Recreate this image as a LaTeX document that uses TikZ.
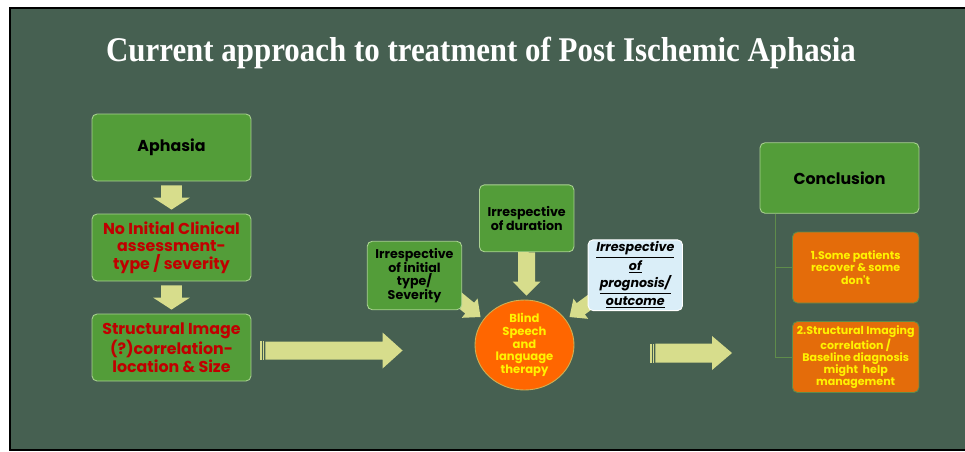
\documentclass[tikz,border=0pt]{standalone}
\usepackage{fontspec}
\setmainfont{Liberation Serif}
\newfontfamily\boxfont{Poppins}
\usetikzlibrary{calc,positioning,shapes.geometric}

\definecolor{slidebg}{RGB}{70,96,81}
\definecolor{boxgreen}{RGB}{83,157,57}
\definecolor{boxedge}{RGB}{170,210,145}
\definecolor{arrowfill}{RGB}{215,221,140}
\definecolor{alertred}{RGB}{192,0,0}
\definecolor{circorange}{RGB}{255,102,0}
\definecolor{resorange}{RGB}{228,108,10}
\definecolor{notefill}{RGB}{218,238,248}
\definecolor{trunkgreen}{RGB}{95,140,75}

\pgfdeclarelayer{bglayer}
\pgfdeclarelayer{under}
\pgfsetlayers{bglayer,under,main}

\tikzset{
  card/.style={rectangle, rounded corners=0.1cm, draw=boxedge, line width=0.5pt,
    align=center, inner sep=1pt, font=\boxfont\bfseries},
  greenbox/.style={card, fill=boxgreen, minimum width=3.18cm, minimum height=1.34cm},
  smallbox/.style={card, fill=boxgreen, minimum width=1.89cm, minimum height=1.37cm,
    font=\boxfont\bfseries\fontsize{7.2}{7.8}\selectfont},
  resbox/.style={card, fill=resorange, draw=trunkgreen, text=yellow, minimum width=2.53cm,
    minimum height=1.42cm, font=\boxfont\bfseries\fontsize{6.3}{6.9}\selectfont},
  titletext/.style={text=white, font=\bfseries\fontsize{17.6}{20}\selectfont},
}

% block arrow: tail, tip, half body, half head, head length
\newcommand{\blockarrow}[5]{%
  \coordinate (ba-hb) at ($(#2)!#5!(#1)$);
  \fill[arrowfill] ($(#1)!#3!90:(#2)$) -- ($(ba-hb)!#3!-90:(#1)$) -- ($(ba-hb)!#4!-90:(#1)$)
    -- (#2) -- ($(ba-hb)!#4!90:(#1)$) -- ($(ba-hb)!#3!90:(#1)$) -- ($(#1)!#3!-90:(#2)$) -- cycle;
}

\begin{document}
\begin{tikzpicture}[x=0.02cm, y=-0.02cm]
\useasboundingbox (0,0) rectangle (965,451);
\begin{pgfonlayer}{bglayer}
  \fill[white] (0,0) rectangle (965,451);
  \fill[slidebg] (10,8) rectangle (965,451);
  \draw[black, line width=1.2pt] (965,8) -- (10,8) -- (10,450) -- (965,450);
\end{pgfonlayer}

\node[titletext] (title) at (481,53) {\scalebox{1}[1.12]{Current approach to treatment of Post Ischemic Aphasia}};

% left column
\node[greenbox, font=\boxfont\bfseries\fontsize{9}{10}\selectfont] (aphasia) at (171.5,147.5) {Aphasia};
\node[greenbox, text=alertred, font=\boxfont\bfseries\fontsize{9}{10}\selectfont] (clinical) at (171.5,247.5)
  {No Initial Clinical\\assessment-\\type / severity};
\node[greenbox, text=alertred, font=\boxfont\bfseries\fontsize{9}{10}\selectfont] (struct) at (171.5,347.5)
  {Structural Image\\(?)correlation-\\location \& Size};

% middle
\node[smallbox] (typebox) at (414.5,275.5) {Irrespective\\of initial\\type/\\Severity};
\node[smallbox, minimum height=1.34cm] (duration) at (526.7,218.3) {Irrespective\\of duration};
\node[smallbox, fill=notefill, draw=white] (progbox) at (635.3,275.2)
  {\underline{\itshape Irrespective}\\\underline{\itshape of}\\\underline{\itshape prognosis/}\\\underline{\itshape outcome}};
\node[ellipse, fill=circorange, draw=boxedge!60!orange, line width=0.5pt, minimum width=1.98cm,
  minimum height=1.8cm, inner sep=0pt, align=center, text=yellow,
  font=\boxfont\bfseries\fontsize{6.6}{7.2}\selectfont] (therapy) at (524.5,345)
  {Blind\\Speech\\and\\language\\therapy};

% right column
\node[greenbox, minimum height=1.41cm, font=\boxfont\bfseries\fontsize{9}{10}\selectfont] (concl) at (839.5,178) {Conclusion};
\node[resbox] (res1) at (855.7,267.5) {1.Some patients\\recover \& some\\don't};
\node[resbox] (res2) at (855.7,357) {2.Structural Imaging\\correlation /\\Baseline diagnosis\\might\ \ help\\management};

\coordinate (trunk) at ($(concl.south west)+(16,0)$);
\draw[trunkgreen, line width=0.4pt] (trunk) |- (res1.west);
\draw[trunkgreen, line width=0.4pt] (trunk) |- (res2.west);

% arrows
\coordinate (a1t) at ($(aphasia.south)+(0,4)$);
\coordinate (a1h) at ($(clinical.north)+(0,-4)$);
\blockarrow{a1t}{a1h}{0.21cm}{0.37cm}{0.24cm}
\coordinate (a2t) at ($(clinical.south)+(0,4)$);
\coordinate (a2h) at ($(struct.north)+(0,-4)$);
\blockarrow{a2t}{a2h}{0.21cm}{0.37cm}{0.24cm}

\coordinate (bigt) at ($(struct.east)+(14,3)$);
\coordinate (bigh) at ($(therapy.west)+(-72,5.5)$);
\blockarrow{bigt}{bigh}{0.18cm}{0.36cm}{0.4cm}
\fill[arrowfill] ($(bigt)+(-5,-9.2)$) rectangle ($(bigt)+(-3.4,9.2)$);
\fill[arrowfill] ($(bigt)+(-2.6,-9.2)$) rectangle ($(bigt)+(-1.6,9.2)$);

\coordinate (dt) at (duration.south);
\coordinate (dh) at ($(therapy.north)+(2,-4)$);
\blockarrow{dt}{dh}{0.17cm}{0.28cm}{0.28cm}

\begin{pgfonlayer}{under}
  \coordinate (lt) at ($(typebox.south east)+(-12,-18)$);
  \coordinate (lh) at ($(therapy.center)+(-44,-28)$);
  \blockarrow{lt}{lh}{0.14cm}{0.25cm}{0.28cm}
  \coordinate (rt) at ($(progbox.south west)+(12,-16)$);
  \coordinate (rh) at ($(therapy.center)+(45,-28)$);
  \blockarrow{rt}{rh}{0.14cm}{0.25cm}{0.28cm}
\end{pgfonlayer}

\coordinate (ct) at ($(therapy.east)+(81,8)$);
\coordinate (ch) at ($(res2.west)+(-60,-4)$);
\blockarrow{ct}{ch}{0.19cm}{0.34cm}{0.4cm}
\fill[arrowfill] ($(ct)+(-5,-9.5)$) rectangle ($(ct)+(-3.5,9.5)$);
\fill[arrowfill] ($(ct)+(-2.5,-9.5)$) rectangle ($(ct)+(-1.5,9.5)$);
\end{tikzpicture}
\end{document}
